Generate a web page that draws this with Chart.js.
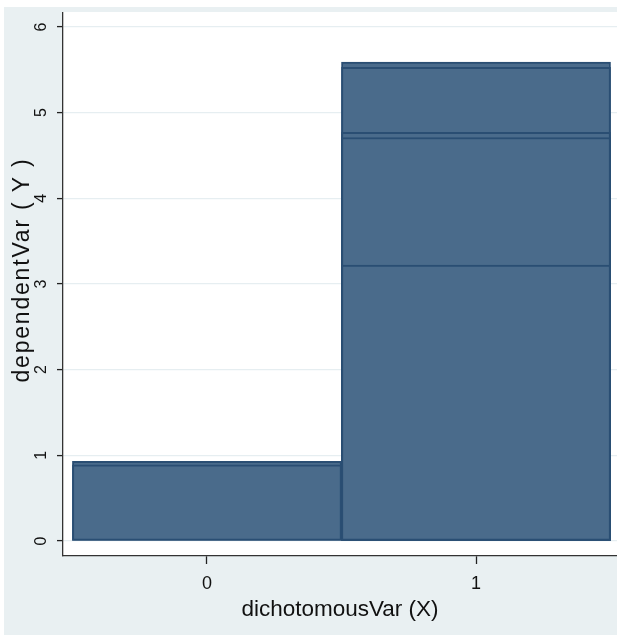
<!DOCTYPE html>
<html>
<head>
<meta charset="utf-8">
<script src="https://cdn.jsdelivr.net/npm/chart.js@4.4.1/dist/chart.umd.min.js"></script>
<style>
  html, body { margin: 0; padding: 0; background: #fff; }
  #chart { display: block; }
</style>
</head>
<body>
<canvas id="chart" width="617" height="635"></canvas>
<script>
var categories = [0, 1];
var bar1 = [0.93, 5.59];
var bar2 = [0.89, 5.53];
var bar3 = [null, 4.77];
var bar4 = [null, 4.71];
var bar5 = [null, 3.22];
var yTicks = [0, 1, 2, 3, 4, 5, 6];
var xTitle = "dichotomousVar (X)";
var yTitle = "dependentVar ( Y )";

var fillColor = "#4a6b8b";
var lineColor = "#2a4e73";
var bgColor = "#e9f0f2";

function toPoints(values) {
    var pts = [];
    categories.forEach(function (c, i) {
        if (values[i] !== null) pts.push({ x: c, y: values[i] });
    });
    return pts;
}

function makeSet(values) {
    return {
        data: toPoints(values),
        backgroundColor: fillColor,
        borderColor: lineColor,
        borderWidth: 2,
        borderSkipped: false,
        grouped: false,
        barPercentage: 1,
        categoryPercentage: 1
    };
}

// first dataset is drawn last, so smallest bars go first
var sets = [bar5, bar4, bar3, bar2, bar1].map(makeSet);

var backdrop = {
    id: "backdrop",
    beforeDraw: function (chart) {
        var ctx = chart.ctx, a = chart.chartArea;
        ctx.save();
        ctx.fillStyle = "#fff";
        ctx.fillRect(0, 0, chart.width, chart.height);
        ctx.fillStyle = bgColor;
        ctx.fillRect(4, 7, chart.width - 4, chart.height - 7);
        ctx.fillStyle = "#fff";
        ctx.fillRect(a.left, a.top - 1, a.right - a.left, a.bottom - a.top + 1);
        ctx.restore();
    },
    afterDraw: function (chart) {
        var ctx = chart.ctx;
        ctx.save();
        ctx.translate(23, 270);
        ctx.rotate(-Math.PI / 2);
        ctx.font = "23px 'Liberation Sans', Arial, sans-serif";
        ctx.letterSpacing = "1.8px";
        ctx.fillStyle = "#111";
        ctx.textAlign = "center";
        ctx.textBaseline = "middle";
        ctx.fillText(yTitle, 0, 0);
        ctx.restore();
    }
};

new Chart(document.getElementById("chart"), {
    type: "bar",
    data: { datasets: sets },
    plugins: [backdrop],
    options: {
        responsive: false,
        devicePixelRatio: 1,
        animation: false,
        layout: { padding: { left: 4, top: 13, right: 0, bottom: 0 } },
        plugins: { legend: { display: false }, tooltip: { enabled: false } },
        scales: {
            x: {
                type: "linear",
                offset: false,
                min: -0.535,
                max: 1.524,
                afterBuildTicks: function (axis) {
                    axis.ticks = categories.map(function (v) { return { value: v }; });
                },
                afterFit: function (axis) {
                    axis.height = 79;
                    axis.paddingLeft = 0;
                    axis.paddingRight = 0;
                },
                grid: { offset: false, drawOnChartArea: false, tickLength: 8, tickColor: "#222", tickWidth: 1.3 },
                border: { display: true, color: "#333", width: 1.3 },
                ticks: {
                    padding: 9,
                    color: "#111",
                    font: { family: "'Liberation Sans Narrow', 'Arial Narrow', 'Liberation Sans', sans-serif", size: 18 },
                    maxRotation: 0
                },
                title: {
                    display: true,
                    text: xTitle,
                    color: "#111",
                    font: { family: "'Liberation Sans Narrow', 'Arial Narrow', 'Liberation Sans', sans-serif", size: 22.5 },
                    padding: { top: 0, bottom: 12 }
                }
            },
            y: {
                min: -0.175,
                max: 6.163,
                afterBuildTicks: function (axis) {
                    axis.ticks = yTicks.map(function (v) { return { value: v }; });
                },
                afterFit: function (axis) {
                    axis.width = 59;
                    axis.paddingTop = 0;
                    axis.paddingBottom = 0;
                },
                grid: { color: "#e6eef1", lineWidth: 1.2, tickLength: 6, tickColor: "#222", tickWidth: 1.3 },
                border: { display: true, color: "#333", width: 1.3 },
                ticks: {
                    padding: 11,
                    crossAlign: "center",
                    minRotation: 90,
                    maxRotation: 90,
                    color: "#111",
                    font: { family: "'Liberation Sans', Arial, sans-serif", size: 16 }
                }
            }
        }
    }
});
</script>
</body>
</html>
